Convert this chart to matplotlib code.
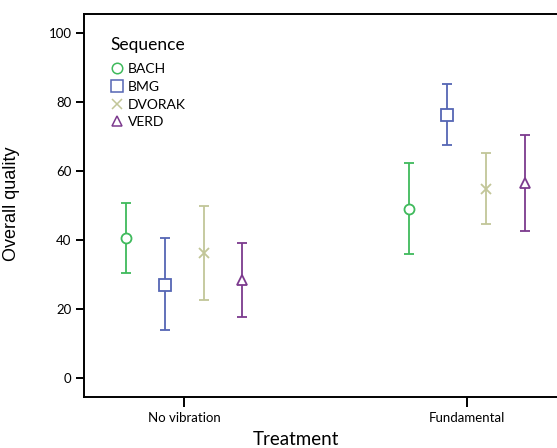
import matplotlib.pyplot as plt
from matplotlib.lines import Line2D

treatments = ['No vibration', 'Fundamental']
sequences = ['BACH', 'BMG', 'DVORAK', 'VERD']
means = {
    'BACH':   [40.6, 49.1],
    'BMG':    [27.1, 76.3],
    'DVORAK': [36.2, 54.9],
    'VERD':   [28.3, 56.6],
}
upper = {
    'BACH':   [50.7, 62.2],
    'BMG':    [40.6, 85.2],
    'DVORAK': [49.9, 65.3],
    'VERD':   [39.0, 70.3],
}
lower = {
    'BACH':   [30.4, 35.8],
    'BMG':    [13.9, 67.4],
    'DVORAK': [22.7, 44.6],
    'VERD':   [17.6, 42.6],
}
colors = {'BACH': '#3fba5c', 'BMG': '#5566b4', 'DVORAK': '#c2c698', 'VERD': '#7c3a8e'}
markers = {'BACH': 'o', 'BMG': 's', 'DVORAK': 'x', 'VERD': '^'}
msize = {'BACH': 7.2, 'BMG': 8.2, 'DVORAK': 6.5, 'VERD': 7.5}

plt.rcParams['font.family'] = ['Lato', 'DejaVu Sans']

fig = plt.figure(figsize=(5.57, 4.48), dpi=100)
# axes runs past the right edge of the figure, like the cropped original
ax = fig.add_axes([84 / 557, 51 / 448, 483 / 557, 383 / 448])

step = 0.1365
for i, s in enumerate(sequences):
    off = (i - 1.5) * step
    xs = [k + off for k in range(len(treatments))]
    m = means[s]
    yerr = [[m[k] - lower[s][k] for k in range(2)], [upper[s][k] - m[k] for k in range(2)]]
    ax.errorbar(xs, m, yerr=yerr, fmt='none', ecolor=colors[s], elinewidth=1.3,
                capsize=3.7, capthick=1.3)
    ax.plot(xs, m, linestyle='none', marker=markers[s], markersize=msize[s],
            markerfacecolor='white' if markers[s] != 'x' else colors[s],
            markeredgecolor=colors[s], markeredgewidth=1.3)

ax.set_xlim(-0.355, 1.355)
ax.set_ylim(-5.5, 105.5)
ax.set_xticks(range(len(treatments)))
ax.set_xticklabels(treatments)
ax.set_yticks([0, 20, 40, 60, 80, 100])
ax.tick_params(axis='y', labelsize=9.5, width=1.4, length=6, pad=3)
ax.tick_params(axis='x', labelsize=9.5, width=1.4, length=7, pad=4)
for sp in ax.spines.values():
    sp.set_linewidth(1.4)

ax.set_xlabel('Treatment', fontsize=13.5)
ax.xaxis.set_label_coords((296 - 84) / 483, -0.088)
ax.set_ylabel('Overall quality', fontsize=13, family=['Liberation Sans'])
ax.yaxis.set_label_coords(-0.132, 0.505)

handles = [Line2D([], [], linestyle='none', marker=markers[s], markersize=msize[s] * 1.05,
                  markerfacecolor='white' if markers[s] != 'x' else colors[s],
                  markeredgecolor=colors[s], markeredgewidth=1.1) for s in sequences]
leg = ax.legend(handles, sequences, title='Sequence', loc='upper left',
                bbox_to_anchor=(0.035, 0.965), frameon=False, fontsize=10,
                title_fontsize=12.5, handlelength=0.9, handletextpad=0.35,
                labelspacing=0.42, borderaxespad=0.3)
leg._legend_box.align = 'left'
leg._legend_box.sep = 7

fig.savefig('out.png', dpi=100)
